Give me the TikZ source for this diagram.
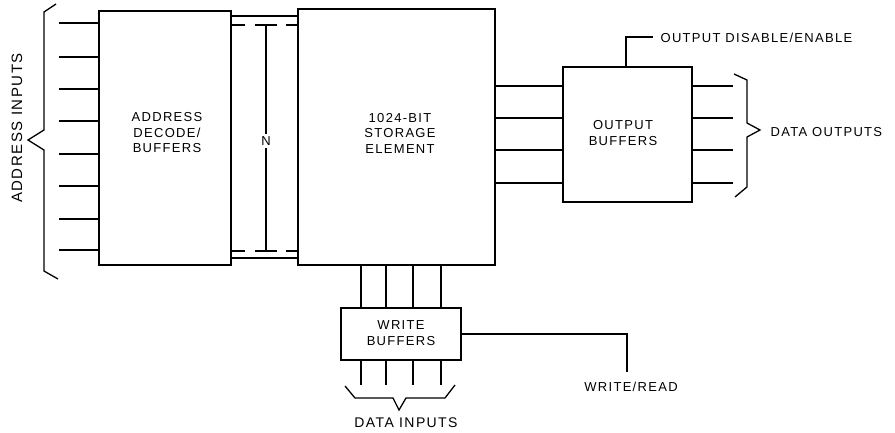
\documentclass[tikz,border=0pt]{standalone}
\usepackage{fontspec}
\newfontfamily\lbl{Liberation Sans}[LetterSpace=10]
\begin{document}
\begin{tikzpicture}[x=1pt,y=-1pt,line width=1.3pt,
  blk/.style={draw,inner sep=0pt,line width=1.3pt},
  txt/.style={font=\lbl\fontsize{13}{15.5}\selectfont,align=center,inner sep=0pt}]
\useasboundingbox (0,0) rectangle (895,432);
% blocks
\node[blk,minimum width=132pt,minimum height=254pt] (addr) at (165,138) {};
\node[blk,minimum width=197pt,minimum height=256pt] (store) at (396.5,137) {};
\node[blk,minimum width=129pt,minimum height=135pt] (outb) at (627.5,134.5) {};
\node[blk,minimum width=120pt,minimum height=52pt] (wbuf) at (401,334) {};
% texts
\node[txt] (taddr) at (167,133) {ADDRESS\\DECODE/\\BUFFERS};
\node[txt] (tstore) at (400,133) {1024-BIT\\STORAGE\\ELEMENT};
\node[txt] (toutb) at (623,133) {OUTPUT\\BUFFERS};
\node[txt] (twbuf) at (401,333) {WRITE\\BUFFERS};
\node[txt,rotate=90,font=\lbl\fontsize{15}{17}\selectfont] (tain) at (17,128) {ADDRESS INPUTS};
\node[txt,anchor=west] (tode) at (660,38) {OUTPUT DISABLE/ENABLE};
\node[txt,anchor=west] (tdo) at (770,132) {DATA OUTPUTS};
\node[txt,font=\lbl\fontsize{14}{16}\selectfont] (tdi) at (406,423) {DATA INPUTS};
\node[txt] (twr) at (631,387) {WRITE/READ};
% address input lines
\foreach \y in {23,57,89,121,154,186,219,250}
  \draw (59,\y) -- (addr.west |- 59,\y);
% left brace
\draw (56,4) -- (44,12) -- (44,130) -- (28,140) -- (44,150) -- (44,271) -- (58,279);
% bus between address decode and storage
\draw (addr.east |- 0,16) -- (store.west |- 0,16);
\draw (addr.east |- 0,258) -- (store.west |- 0,258);
\foreach \y in {25,251}{
  \draw (addr.east |- 0,\y) -- (245,\y);
  \draw (286,\y) -- (store.west |- 0,\y);
  \draw (255,\y) -- (277,\y);
}
\coordinate (ntop) at (266,25);
\coordinate (nbot) at (266,251);
\draw (ntop) -- (nbot);
\node[txt,fill=white,inner sep=2.5pt] (nlbl) at (266,141) {N};
% storage to output buffers
\foreach \y in {86,118,150,183}{
  \draw (store.east |- 0,\y) -- (outb.west |- 0,\y);
  \draw (outb.east |- 0,\y) -- (733,\y);
}
% right brace
\draw (734,74) -- (747,80) -- (747,123) -- (760,130) -- (747,137) -- (747,187) -- (735,197);
% output disable/enable
\draw (outb.north -| 626,0) -- (626,37) -- (653,37);
% storage to write buffers
\foreach \x in {361,386,413,441}{
  \draw (store.south -| \x,0) -- (wbuf.north -| \x,0);
  \draw (wbuf.south -| \x,0) -- (\x,385);
}
% data inputs brace
\draw (345,386) -- (355,398) -- (393,398) -- (399,410) -- (406,398) -- (445,398) -- (455,385);
% write/read
\draw (wbuf.east) -- (627,334) -- (627,372);
\end{tikzpicture}
\end{document}
